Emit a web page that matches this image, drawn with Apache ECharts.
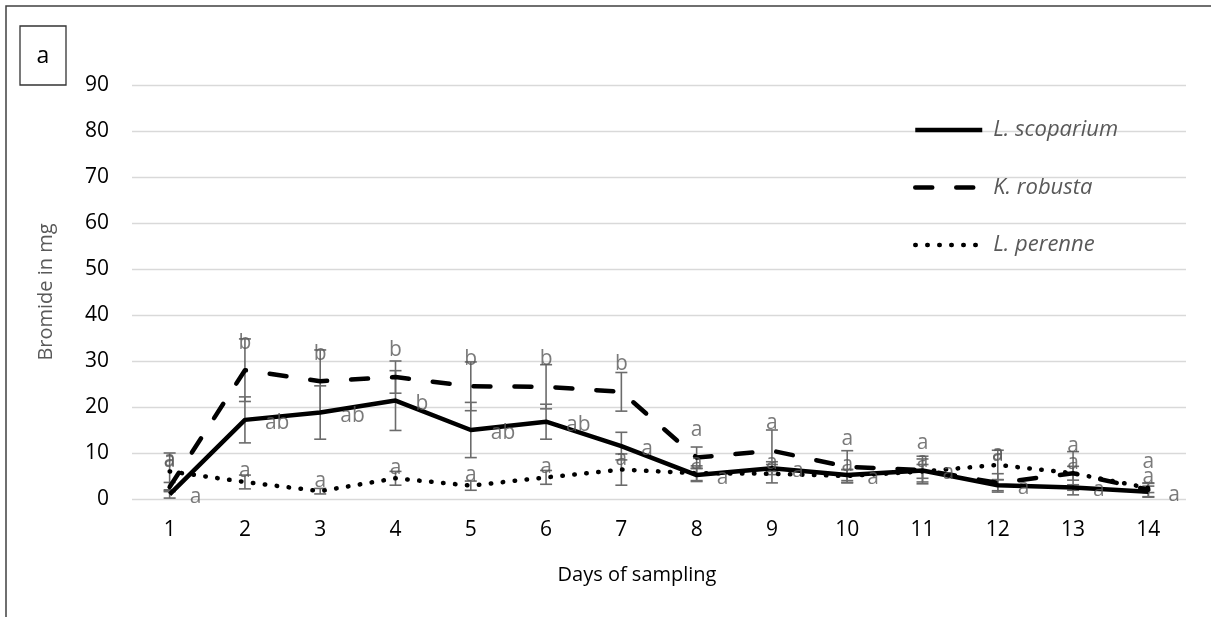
<!DOCTYPE html>
<html>
<head>
<meta charset="utf-8">
<script src="https://cdn.jsdelivr.net/npm/echarts@6/dist/echarts.min.js"></script>
<style>
html,body{margin:0;padding:0;background:#fff;}
#chart{width:1211px;height:617px;}
</style>
</head>
<body>
<div id="chart"></div>
<script>
var days = ['1','2','3','4','5','6','7','8','9','10','11','12','13','14'];
var yTicks = [0,10,20,30,40,50,60,70,80,90];

var scoparium    = [1.0, 17.2, 18.8, 21.4, 15.0, 16.8, 11.5, 5.2, 6.7, 5.2, 6.2, 3.0, 2.5, 1.6];
var scopariumErr = [0.8, 5.0, 5.8, 6.5, 6.0, 3.8, 3.0, 1.4, 1.4, 1.2, 2.5, 1.2, 0.6, 1.2];
var scopariumLbl = ['a','ab','ab','b','ab','ab','a','a','a','a','a','a','a','a'];

var robusta      = [2.6, 28.0, 25.6, 26.5, 24.5, 24.4, 23.3, 9.0, 10.5, 7.0, 6.3, 3.5, 5.6, 2.0];
var robustaErr   = [1.0, 6.8, 6.8, 3.5, 5.3, 4.8, 4.2, 2.3, 4.5, 3.5, 3.0, 2.0, 4.7, 1.5];
var robustaLbl   = ['a','b','b','b','b','b','b','a','a','a','a','a','a','a'];

var perenne      = [6.0, 3.7, 1.7, 4.5, 2.9, 4.7, 6.4, 5.6, 5.5, 5.0, 6.0, 7.4, 5.6, 2.4];
var perenneErr   = [4.0, 1.5, 0.6, 1.5, 1.0, 1.5, 3.4, 1.6, 2.0, 1.4, 1.5, 3.2, 1.5, 1.0];
var perenneLbl   = ['a','a','a','a','a','a','a','a','a','a','a','a','a','a'];

var FONT = '"Open Sans", "Noto Sans", sans-serif';
var ERR_COLOR = '#6b6b6b';
var LBL_COLOR = '#595959';

function pairs(vals) { return vals.map(function (v, i) { return [i, v]; }); }
function errData(vals, errs) { return vals.map(function (v, i) { return [i, v - errs[i], v + errs[i]]; }); }

function errorSeries(vals, errs) {
  return {
    type: 'custom',
    silent: true,
    z: 1,
    data: errData(vals, errs),
    renderItem: function (params, api) {
      var lo = api.coord([api.value(0), api.value(1)]);
      var hi = api.coord([api.value(0), api.value(2)]);
      var hw = 6;
      var st = { stroke: ERR_COLOR, lineWidth: 1.6 };
      return {
        type: 'group',
        children: [
          { type: 'line', shape: { x1: lo[0], y1: lo[1], x2: hi[0], y2: hi[1] }, style: st },
          { type: 'line', shape: { x1: lo[0] - hw, y1: lo[1], x2: lo[0] + hw, y2: lo[1] }, style: st },
          { type: 'line', shape: { x1: hi[0] - hw, y1: hi[1], x2: hi[0] + hw, y2: hi[1] }, style: st }
        ]
      };
    }
  };
}

function labelSeries(vals, letters, pos, dist, off) {
  return {
    type: 'scatter',
    silent: true,
    z: 5,
    symbolSize: 0,
    data: pairs(vals),
    label: {
      show: true,
      position: pos,
      distance: dist,
      offset: off || [0, 0],
      color: LBL_COLOR,
      fontFamily: FONT,
      fontSize: 21,
      formatter: function (p) { return letters[p.dataIndex]; }
    }
  };
}

function lineSeries(name, vals, lineType, cap) {
  return {
    name: name,
    type: 'line',
    z: 3,
    symbol: 'none',
    data: vals,
    itemStyle: { color: '#000' },
    lineStyle: { color: '#000', width: 4.5, type: lineType, cap: cap, join: 'round' }
  };
}

var chart = echarts.init(document.getElementById('chart'), null, { renderer: 'canvas' });
chart.setOption({
  animation: false,
  backgroundColor: '#fff',
  textStyle: { fontFamily: FONT },
  grid: { left: 132, right: 25, top: 85, bottom: 118 },
  legend: {
    orient: 'vertical',
    left: 913,
    top: 119,
    padding: 0,
    itemWidth: 67,
    itemHeight: 22,
    itemGap: 35.5,
    itemStyle: { opacity: 0 },
    lineStyle: { width: 4.5 },
    data: ['L. scoparium', 'K. robusta', 'L. perenne'],
    textStyle: { color: LBL_COLOR, fontStyle: 'italic', fontSize: 22, fontFamily: FONT, padding: [0, 0, 0, 6] }
  },
  xAxis: {
    type: 'category',
    data: days,
    boundaryGap: true,
    axisLine: { show: false },
    axisTick: { show: false },
    axisLabel: { color: '#000', fontSize: 21, margin: 21, fontFamily: FONT },
    name: 'Days of sampling',
    nameLocation: 'middle',
    nameGap: 66,
    nameTextStyle: { color: '#000', fontSize: 20, fontFamily: FONT, padding: [0, 44, 0, 0] }
  },
  yAxis: {
    type: 'value',
    min: yTicks[0],
    max: yTicks[yTicks.length - 1],
    interval: yTicks[1] - yTicks[0],
    axisLine: { show: false },
    axisTick: { show: false },
    splitLine: { lineStyle: { color: '#d9d9d9', width: 1.3 } },
    axisLabel: { color: '#000', fontSize: 21, margin: 23, fontFamily: FONT },
    name: 'Bromide in mg',
    nameLocation: 'middle',
    nameGap: 76,
    nameRotate: 90,
    nameTextStyle: { color: LBL_COLOR, fontSize: 20, fontFamily: FONT }
  },
  graphic: [
    { type: 'rect', shape: { x: 6, y: 6, width: 1400, height: 800 }, style: { fill: 'none', stroke: '#404040', lineWidth: 1.5 }, silent: true, z: 100 },
    { type: 'rect', shape: { x: 20, y: 26, width: 46, height: 59 }, style: { fill: '#fff', stroke: '#333', lineWidth: 1.3 }, silent: true, z: 100 },
    { type: 'text', x: 43, y: 56, style: { text: 'a', fill: '#000', fontSize: 23, fontFamily: FONT, align: 'center', verticalAlign: 'middle' }, silent: true, z: 101 }
  ],
  series: [
    errorSeries(scoparium, scopariumErr),
    errorSeries(robusta, robustaErr),
    errorSeries(perenne, perenneErr),
    lineSeries('L. scoparium', scoparium, 'solid', 'butt'),
    lineSeries('K. robusta', robusta, [17, 24], 'round'),
    lineSeries('L. perenne', perenne, [0.5, 11.5], 'round'),
    labelSeries(robusta, robustaLbl, 'top', 17),
    labelSeries(scoparium, scopariumLbl, 'right', 20, [0, 3]),
    labelSeries(perenne, perenneLbl, 'top', 0)
  ]
});
</script>
</body>
</html>
